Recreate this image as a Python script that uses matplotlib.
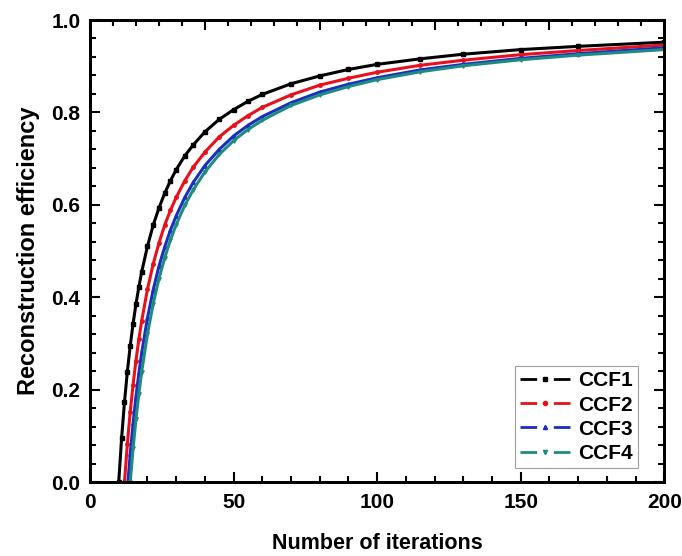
import numpy as np
import matplotlib.pyplot as plt
from matplotlib.ticker import MultipleLocator
from matplotlib.lines import Line2D

plt.rcParams['font.family'] = ['Liberation Sans', 'DejaVu Sans']
plt.rcParams['font.weight'] = 'bold'

# values
it1 = [10, 11, 12, 13, 14, 15, 16, 17, 18, 20, 22, 24, 26, 28, 30, 33, 36, 40, 45, 50,
       55, 60, 70, 80, 90, 100, 115, 130, 150, 170, 200]
ccf1 = [0.0, 0.095, 0.173, 0.239, 0.295, 0.343, 0.385, 0.422, 0.455, 0.510, 0.556, 0.593,
        0.625, 0.652, 0.676, 0.706, 0.730, 0.758, 0.785, 0.806, 0.824, 0.839, 0.862, 0.879,
        0.893, 0.904, 0.916, 0.926, 0.936, 0.943, 0.952]

it2 = [12, 13, 14, 15, 16, 17, 18, 20, 22, 24, 26, 28, 30, 33, 36, 40, 45, 50,
       55, 60, 70, 80, 90, 100, 115, 130, 150, 170, 200]
ccf2 = [0.0, 0.082, 0.152, 0.211, 0.263, 0.309, 0.349, 0.417, 0.472, 0.517, 0.556, 0.588,
        0.616, 0.652, 0.682, 0.714, 0.747, 0.772, 0.793, 0.811, 0.838, 0.859, 0.874, 0.887,
        0.902, 0.913, 0.925, 0.934, 0.946]

it3 = [13, 14, 15, 16, 17, 18, 20, 22, 24, 26, 28, 30, 33, 36, 40, 45, 50,
       55, 60, 70, 80, 90, 100, 115, 130, 150, 170, 200]
ccf3 = [-0.016, 0.061, 0.127, 0.185, 0.235, 0.280, 0.355, 0.416, 0.467, 0.509, 0.545,
        0.576, 0.616, 0.649, 0.685, 0.720, 0.749, 0.772, 0.791, 0.821, 0.844, 0.861, 0.875,
        0.892, 0.904, 0.917, 0.927, 0.940]

it4 = [14, 15, 16, 17, 18, 20, 22, 24, 26, 28, 30, 33, 36, 40, 45, 50,
       55, 60, 70, 80, 90, 100, 115, 130, 150, 170, 200]
ccf4 = [0.0, 0.073, 0.136, 0.191, 0.239, 0.320, 0.386, 0.440, 0.485, 0.524, 0.557, 0.599,
        0.633, 0.671, 0.709, 0.739, 0.763, 0.783, 0.815, 0.838, 0.856, 0.871, 0.888, 0.901,
        0.914, 0.924, 0.936]

names = ['CCF1', 'CCF2', 'CCF3', 'CCF4']
colors = ['black', '#e8101a', '#1a2fc0', '#1f8a80']
markers = ['s', 'o', '^', 'v']

fig = plt.figure(figsize=(6.82, 5.56), dpi=100)
ax = fig.add_axes([0.132, 0.133, 0.842, 0.831])

handles = []
for x, y, n, c, m in zip([it1, it2, it3, it4], [ccf1, ccf2, ccf3, ccf4], names, colors, markers):
    ax.plot(x, y, color=c, ls='-', lw=2.2, marker=m, ms=2.5)
    handles.append(Line2D([], [], color=c, ls=(0, (6, 2.5, 1, 2.5)), lw=2, marker=m, ms=3, label=n))

ax.set_xlim(0, 200)
ax.set_ylim(0, 1.0)
ax.xaxis.set_major_locator(MultipleLocator(50))
ax.xaxis.set_minor_locator(MultipleLocator(10))
ax.yaxis.set_major_locator(MultipleLocator(0.2))
ax.yaxis.set_minor_locator(MultipleLocator(0.04))
ax.yaxis.set_major_formatter(plt.FormatStrFormatter('%.1f'))
ax.tick_params(which='both', direction='in', width=1.5, labelsize=15, right=True)
ax.tick_params(which='major', length=7)
ax.tick_params(which='minor', length=4)
ax.tick_params(axis='x', pad=8)
ax.tick_params(axis='y', pad=7)

# top axis carries the same ticks as the y axis, without labels
top = ax.twiny()
top.set_xlim(0, 1)
top.xaxis.set_major_locator(MultipleLocator(0.2))
top.xaxis.set_minor_locator(MultipleLocator(0.04))
top.tick_params(which='both', direction='in', width=1.5, labeltop=False)
top.tick_params(which='major', length=7)
top.tick_params(which='minor', length=4)

for a in (ax, top):
    for s in a.spines.values():
        s.set_linewidth(2)

ax.set_xlabel('Number of iterations', fontsize=15.5, fontweight='bold', labelpad=15)
ax.set_ylabel('Reconstruction efficiency', fontsize=17, fontweight='bold', labelpad=8)

leg = ax.legend(handles=handles, loc='lower right', bbox_to_anchor=(0.955, 0.03), fontsize=15,
                frameon=True, fancybox=False, edgecolor='#888888', numpoints=1,
                handlelength=2.4, handletextpad=0.4, borderpad=0.25, labelspacing=0.25,
                borderaxespad=0)
leg.get_frame().set_linewidth(0.8)

fig.savefig('out.png', dpi=100)
